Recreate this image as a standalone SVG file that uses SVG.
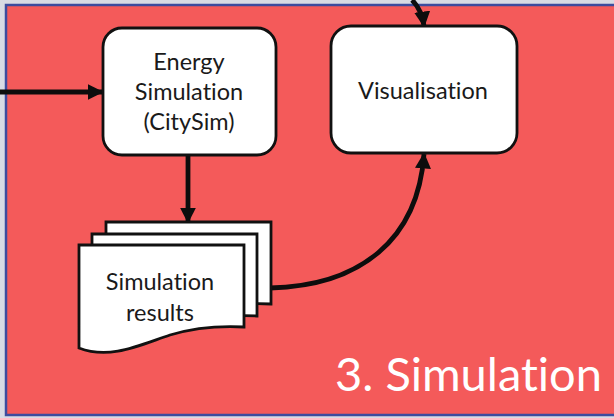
<svg xmlns="http://www.w3.org/2000/svg" width="614" height="418" viewBox="0 0 614 418">
  <style>
    .box { fill: #ffffff; stroke: #111111; stroke-width: 2.8; }
    .doc { fill: #ffffff; stroke: #111111; stroke-width: 2.8; stroke-linejoin: miter; }
    .lbl, .title { font-family: Lato, "Liberation Sans", Arial, sans-serif; font-variant-ligatures: none; font-feature-settings: "liga" 0, "clig" 0; }
    .lbl { font-size: 23.5px; fill: #1a1a1a; text-anchor: middle; }
    .link { fill: none; stroke: #0d0d0d; stroke-width: 4.8; }
    .title { font-size: 47px; fill: #ffffff; }
  </style>
  <defs>
    <marker id="arrow" viewBox="0 0 10 10" refX="9" refY="5" markerUnits="userSpaceOnUse" markerWidth="16" markerHeight="16" orient="auto">
      <path d="M0 0 L10 5 L0 10 Z" fill="#0d0d0d"/>
    </marker>
    <path id="docShape" d="M79 245 H244 V327 C 225 326 200 326 170 335 C 140 345 110 360 79 348 Z"/>
  </defs>

  <!-- backdrop and stage panel -->
  <rect x="0" y="0" width="614" height="418" fill="#d8dbe4"/>
  <rect x="6" y="5" width="640" height="410" fill="#f45a5a" stroke="#3d4c9e" stroke-width="2.5"/>

  <!-- connectors -->
  <g id="connectors">
    <path class="link" d="M0 92 H102" marker-end="url(#arrow)"/>
    <path class="link" d="M412 0 Q 422 10 424 26" marker-end="url(#arrow)"/>
    <path class="link" d="M188 156 V222" marker-end="url(#arrow)"/>
    <path class="link" d="M270 288 C 360 286 418 240 424 154" marker-end="url(#arrow)"/>
  </g>

  <!-- Energy Simulation node -->
  <g id="energy-simulation">
    <rect class="box" x="103" y="28" width="173" height="127" rx="19"/>
    <text class="lbl" x="189" y="70">Energy</text>
    <text class="lbl" x="189" y="100">Simulation</text>
    <text class="lbl" x="189" y="130">(CitySim)</text>
  </g>

  <!-- Visualisation node -->
  <g id="visualisation">
    <rect class="box" x="331" y="26" width="186" height="127" rx="20"/>
    <text class="lbl" x="423" y="99">Visualisation</text>
  </g>

  <!-- Simulation results: stacked documents -->
  <g id="simulation-results">
    <use href="#docShape" class="doc" transform="translate(27,-23)"/>
    <use href="#docShape" class="doc" transform="translate(13,-11)"/>
    <use href="#docShape" class="doc"/>
    <text class="lbl" x="160" y="290">Simulation</text>
    <text class="lbl" x="160" y="321">results</text>
  </g>

  <!-- stage title -->
  <text class="title" x="335" y="391" textLength="267" lengthAdjust="spacingAndGlyphs">3. Simulation</text>
</svg>
